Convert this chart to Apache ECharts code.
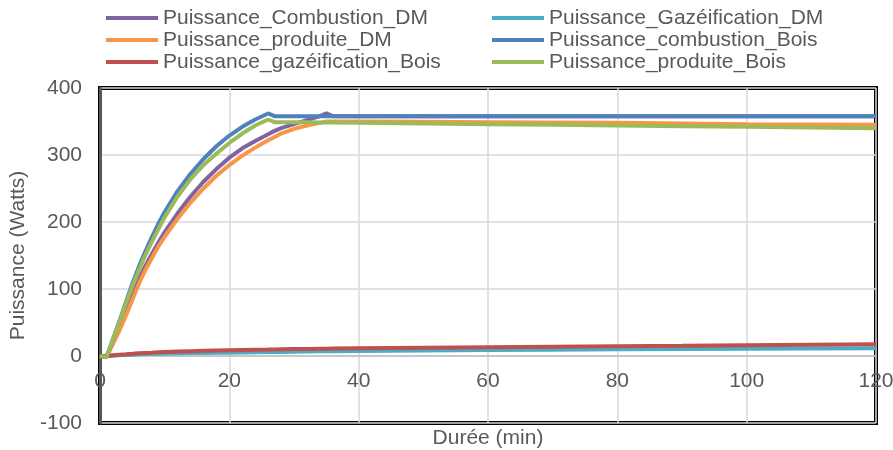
<!DOCTYPE html>
<html>
<head>
<meta charset="utf-8">
<script src="https://cdn.jsdelivr.net/npm/echarts@6/dist/echarts.min.js"></script>
<style>
html,body{margin:0;padding:0;background:#fff;}
#chart{width:893px;height:450px;}
</style>
</head>
<body>
<div id="chart"></div>
<script>
// Time (min)
var timeMin = [0,1,2,3,4,5,6,7,8,9,10,12,14,16,18,20,22,24,26,27,28,30,32,34,35,36,40,50,60,70,80,90,100,110,120];

var combustionDM   = [0,-1,20,42,64,92,114,134,152,169,185,213,238,260,279,296,310,321,331,336,340,346,352,358,362,358,358,358,358,358,358,358,358,358,358];
var gazeificationDM= [0,0,0.5,1,1.5,2,2.5,3,3.2,3.4,3.6,4,4.3,4.6,4.8,5,5.3,5.6,5.9,6,6.1,6.4,6.7,7,7.1,7.2,7.5,8.2,9,9.5,10,10.5,11,11.3,11.5];
var produiteDM     = [0,-1,18,38,60,84,108,128,146,163,178,205,229,250,269,285,299,311,322,327,332,339,344,348,350,350,350,349.5,349,348.5,348,347,346,345.5,345];
var combustionBois = [0,-2,25,52,80,108,133,156,177,197,215,246,272,294,313,329,342,353,362,358,358,358,358,358,358,358,358,358,358,358,358,358,358,358,358];
var gazeificationBois=[0,0,1,2,2.5,3.2,4,4.6,5,5.5,6,6.7,7.2,7.7,8.1,8.5,8.9,9.3,9.6,9.8,10,10.3,10.6,10.9,11,11.1,11.5,12.3,13,13.7,14.5,15.2,16,16.7,17.5];
var produiteBois   = [0,-2,25,51,78,104,128,150,170,189,207,238,264,285,302,318,332,344,353,349,349,349,348.8,348.6,348.5,348.4,348,347,346,345,344,343,342,341,340];

var seriesNames = ['Puissance_Combustion_DM','Puissance_Gazéification_DM','Puissance_produite_DM','Puissance_combustion_Bois','Puissance_gazéification_Bois','Puissance_produite_Bois'];
var seriesValues = [combustionDM, gazeificationDM, produiteDM, combustionBois, gazeificationBois, produiteBois];
var seriesColors = ['#8064A2','#4BACC6','#F79646','#4F81BD','#C0504D','#9BBB59'];

var xTicks = {min:0, max:120, interval:20};
var yTicks = {min:-100, max:400, interval:100};

function pairs(vals){ return timeMin.map(function(t,i){ return [t, vals[i]]; }); }

var series = seriesNames.map(function(n,i){
  return {
    name:n, type:'line', data:pairs(seriesValues[i]),
    showSymbol:false, symbol:'none',
    lineStyle:{width:4, color:seriesColors[i]},
    itemStyle:{color:seriesColors[i]},
    z: 2+i
  };
});

var txt = '#595959';
var font = 'Liberation Sans, Arial, sans-serif';
var fs = 21;
var gridTop = 88, gridBottom = 27, H = 450;
var plotH = H - gridTop - gridBottom;
// shift the x axis up so it crosses the y axis at 0
var zeroOffset = -plotH * (0 - yTicks.min) / (yTicks.max - yTicks.min);

var legendCommon = {
  orient:'vertical', icon:'rect', itemWidth:52, itemHeight:4, itemGap:0,
  top:7, padding:0,
  textStyle:{color:txt, fontSize:fs, fontFamily:font, lineHeight:22}
};

var chart = echarts.init(document.getElementById('chart'));
chart.setOption({
  animation:false,
  backgroundColor:'#fff',
  legend:[
    Object.assign({}, legendCommon, {left:106, data:[seriesNames[0],seriesNames[2],seriesNames[4]]}),
    Object.assign({}, legendCommon, {left:492, data:[seriesNames[1],seriesNames[3],seriesNames[5]]})
  ],
  grid:{left:100, right:17, top:gridTop, bottom:gridBottom, containLabel:false, outerBoundsMode:'none',
        show:true, borderColor:'#000', borderWidth:4, backgroundColor:'transparent'},
  xAxis:{
    type:'value', min:xTicks.min, max:xTicks.max, interval:xTicks.interval,
    offset:zeroOffset,
    name:'Durée (min)', nameLocation:'middle', nameGap:72,
    nameTextStyle:{color:txt, fontSize:fs, fontFamily:font},
    axisLine:{onZero:false, lineStyle:{color:'#BFBFBF', width:1.5}},
    axisTick:{show:false},
    axisLabel:{color:txt, fontSize:fs, fontFamily:font, margin:15},
    splitLine:{show:true, lineStyle:{color:'#D9D9D9', width:1.5}}
  },
  yAxis:{
    type:'value', min:yTicks.min, max:yTicks.max, interval:yTicks.interval,
    name:'Puissance (Watts)', nameLocation:'middle', nameGap:70,
    nameTextStyle:{color:txt, fontSize:fs, fontFamily:font},
    axisLine:{show:true, onZero:false, lineStyle:{color:'#595959', width:3}},
    axisTick:{show:false},
    axisLabel:{color:txt, fontSize:fs, fontFamily:font, margin:18},
    splitLine:{show:true, lineStyle:{color:'#D9D9D9', width:1.5}}
  },
  series:series
});
</script>
</body>
</html>
